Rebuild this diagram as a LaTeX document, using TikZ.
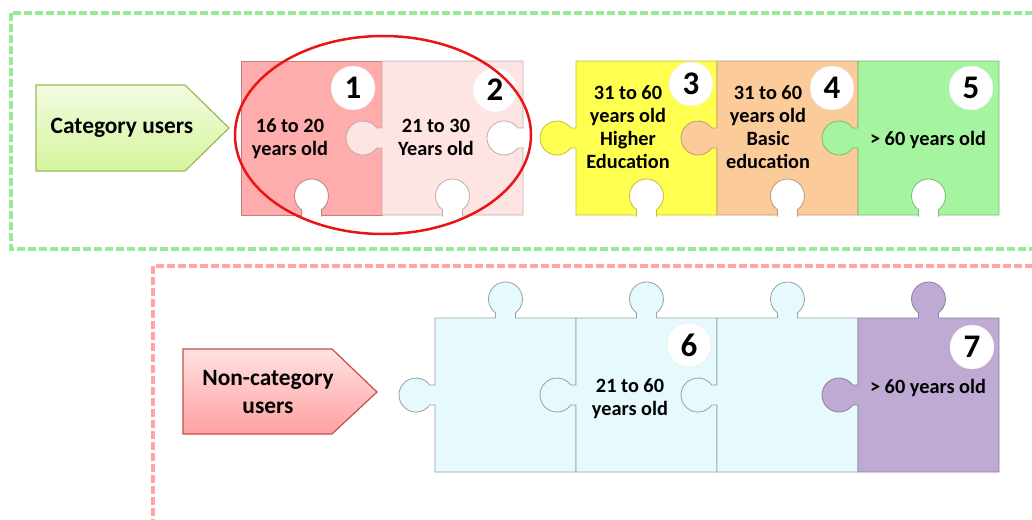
\documentclass[tikz,border=0pt]{standalone}
\usepackage{fontspec}
\setmainfont{Carlito}
\definecolor{boxgreen}{RGB}{150,236,150}
\definecolor{boxpink}{RGB}{255,165,165}
\definecolor{catborder}{RGB}{155,187,89}
\definecolor{cattop}{RGB}{242,251,224}
\definecolor{catbottom}{RGB}{213,245,157}
\definecolor{ncborder}{RGB}{192,80,77}
\definecolor{nctop}{RGB}{255,226,226}
\definecolor{ncbottom}{RGB}{255,160,160}
\definecolor{pzsalmon}{RGB}{255,172,172}
\definecolor{pzrose}{RGB}{255,228,228}
\definecolor{pzyellow}{RGB}{255,255,80}
\definecolor{pzpeach}{RGB}{252,203,154}
\definecolor{pzgreen}{RGB}{165,245,160}
\definecolor{pzblue}{RGB}{230,249,253}
\definecolor{pzpurple}{RGB}{190,170,210}
\definecolor{ovalred}{RGB}{235,20,20}
\begin{document}
\begin{tikzpicture}
[x=1pt, y=-1pt,
 piece/.style={line width=0.8pt, line join=round},
 hole/.style={fill=white, line width=0.8pt},
 txt/.style={font=\bfseries\fontsize{20.3}{23}\selectfont, align=center, inner sep=0pt},
 lbl/.style={font=\bfseries\fontsize{23.4}{28}\selectfont, align=center, inner sep=0pt},
 numcirc/.style={circle, fill=white, draw=black!8, minimum size=44pt, inner sep=0pt, font=\bfseries\fontsize{33}{33}\selectfont}]
\useasboundingbox (0,0) rectangle (1032,519);
\clip (0,0) rectangle (1032,519);
\draw[boxgreen, line width=3.5pt, dash pattern=on 8pt off 3pt] (11,13) rectangle (1045,249);
\draw[boxpink, line width=3.5pt, dash pattern=on 8pt off 3pt] (153,266) rectangle (1045,540);
\draw[catborder, line width=1.2pt, top color=cattop, bottom color=catbottom] (36,85) -- (185,85) -- (229,128) -- (185,171) -- (36,171) -- cycle;
\node[lbl] (catusers) at (122,128) {Category users};
\draw[ncborder, line width=1.2pt, top color=nctop, bottom color=ncbottom] (183,349) -- (332,349) -- (377,392) -- (332,434) -- (183,434) -- cycle;
\node[lbl] (noncatusers) at (268,392) {Non-category\\users};
\draw[piece, fill=pzsalmon, draw=pzsalmon!75!black] (241,61) rectangle (382,215);
\draw[piece, fill=pzrose, draw=pzrose!75!black] (382,215) -- (382,148) -- ++(-5.25,0) arc[start angle=36, end angle=324, radius=17] -- (382,128) -- (382,61) -- (523,61) -- (523,215) -- cycle;
\draw[piece, fill=pzyellow, draw=pzyellow!75!black] (576,215) -- (576,148) -- ++(-5.25,0) arc[start angle=36, end angle=324, radius=17] -- (576,128) -- (576,61) -- (717,61) -- (717,215) -- cycle;
\draw[piece, fill=pzpeach, draw=pzpeach!75!black] (717,215) -- (717,148) -- ++(-5.25,0) arc[start angle=36, end angle=324, radius=17] -- (717,128) -- (717,61) -- (858,61) -- (858,215) -- cycle;
\draw[piece, fill=pzgreen, draw=pzgreen!75!black] (858,215) -- (858,148) -- ++(-5.25,0) arc[start angle=36, end angle=324, radius=17] -- (858,128) -- (858,61) -- (999,61) -- (999,215) -- cycle;
\draw[hole, draw=pzsalmon!75!black] (301.5,216.5) -- (301.5,209.75) arc[start angle=126, end angle=414, radius=17] -- (321.5,216.5);
\draw[hole, draw=pzrose!75!black] (442.5,216.5) -- (442.5,209.75) arc[start angle=126, end angle=414, radius=17] -- (462.5,216.5);
\draw[hole, draw=pzrose!75!black] (524.5,128) -- (517.75,128) arc[start angle=324, end angle=36, radius=17] -- (524.5,148);
\draw[hole, draw=pzyellow!75!black] (636.5,216.5) -- (636.5,209.75) arc[start angle=126, end angle=414, radius=17] -- (656.5,216.5);
\draw[hole, draw=pzpeach!75!black] (777.5,216.5) -- (777.5,209.75) arc[start angle=126, end angle=414, radius=17] -- (797.5,216.5);
\draw[hole, draw=pzgreen!75!black] (918.5,216.5) -- (918.5,209.75) arc[start angle=126, end angle=414, radius=17] -- (938.5,216.5);
\draw[piece, fill=pzblue, draw=pzblue!65!black] (435,472) -- (435,405) -- ++(-5.25,0) arc[start angle=36, end angle=324, radius=17] -- (435,385) -- (435,318) -- (495.5,318) -- ++(0,-5.25) arc[start angle=126, end angle=414, radius=17] -- (515.5,318) -- (576,318) -- (576,472) -- cycle;
\draw[piece, fill=pzblue, draw=pzblue!65!black] (576,472) -- (576,405) -- ++(-5.25,0) arc[start angle=36, end angle=324, radius=17] -- (576,385) -- (576,318) -- (636.5,318) -- ++(0,-5.25) arc[start angle=126, end angle=414, radius=17] -- (656.5,318) -- (717,318) -- (717,472) -- cycle;
\draw[piece, fill=pzblue, draw=pzblue!65!black] (717,472) -- (717,405) -- ++(-5.25,0) arc[start angle=36, end angle=324, radius=17] -- (717,385) -- (717,318) -- (777.5,318) -- ++(0,-5.25) arc[start angle=126, end angle=414, radius=17] -- (797.5,318) -- (858,318) -- (858,472) -- cycle;
\draw[piece, fill=pzpurple, draw=pzpurple!75!black] (858,472) -- (858,405) -- ++(-5.25,0) arc[start angle=36, end angle=324, radius=17] -- (858,385) -- (858,318) -- (918.5,318) -- ++(0,-5.25) arc[start angle=126, end angle=414, radius=17] -- (938.5,318) -- (999,318) -- (999,472) -- cycle;
\node[numcirc] (num1) at (353,88) {1};
\node[numcirc] (num2) at (495,90) {2};
\node[numcirc] (num3) at (691,84) {3};
\node[numcirc] (num4) at (832,88) {4};
\node[numcirc] (num5) at (971,88) {5};
\node[numcirc] (num6) at (689,345) {6};
\node[numcirc] (num7) at (972,347) {7};
\node[txt] (age1) at (290,138.5) {16 to 20\\years old};
\node[txt] (age2) at (436,137.5) {21 to 30\\Years old};
\node[txt] (age3) at (628,126.7) {31 to 60\\years old\\Higher\\Education};
\node[txt] (age4) at (768,126.7) {31 to 60\\years old\\Basic\\education};
\node[txt] (age5) at (928,140) {> 60 years old};
\node[txt] (age6) at (630,399) {21 to 60\\years old};
\node[txt] (age7) at (928,388) {> 60 years old};
\draw[ovalred, line width=2.5pt] (383,135) ellipse [x radius=148, y radius=99];
\end{tikzpicture}
\end{document}
